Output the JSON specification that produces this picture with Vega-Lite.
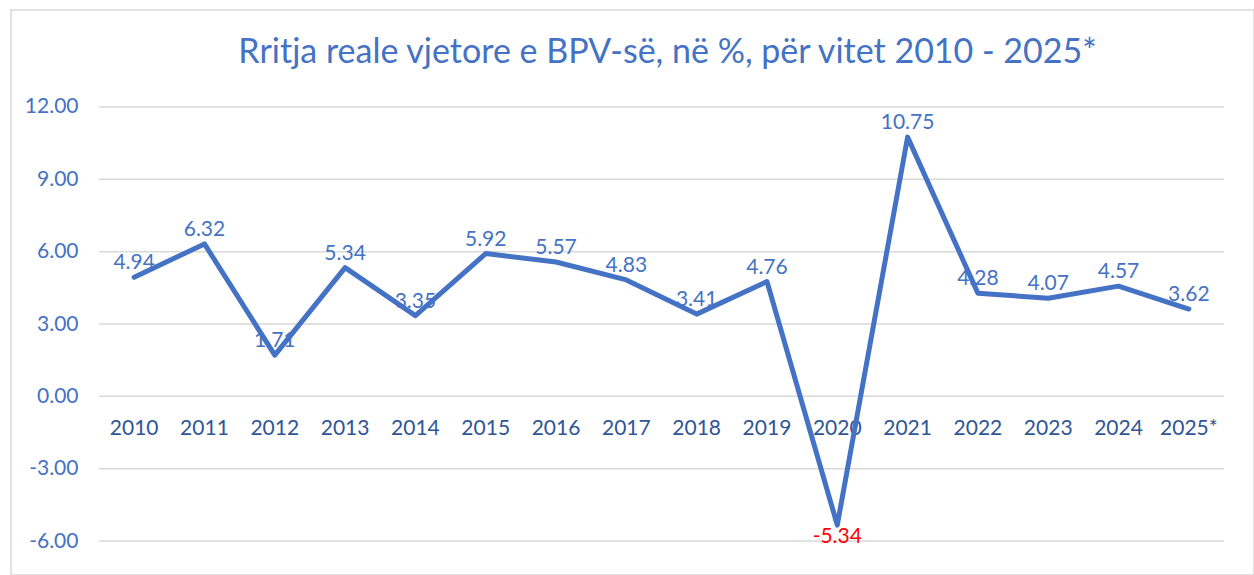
{
  "$schema": "https://vega.github.io/schema/vega-lite/v6.json",
  "width": 1243,
  "height": 565,
  "autosize": {"type": "none"},
  "padding": {"left": 11, "top": 10, "right": 0, "bottom": 0},
  "background": "white",
  "config": {
    "view": {"stroke": "#d9d9d9", "strokeWidth": 1.5},
    "font": "Lato",
    "locale": {"number": {"decimal": ".", "thousands": ",", "grouping": [3], "currency": ["$", ""], "minus": "-"}}
  },
  "title": {
    "text": "Rritja reale vjetore e BPV-së, në %, për vitet 2010 - 2025*",
    "font": "Lato",
    "fontSize": 34,
    "fontWeight": "normal",
    "color": "#4472C4",
    "anchor": "middle",
    "dx": 35,
    "dy": 64
  },
  "data": {
    "values": [
      {"year": "2010", "value": 4.94},
      {"year": "2011", "value": 6.32},
      {"year": "2012", "value": 1.71},
      {"year": "2013", "value": 5.34},
      {"year": "2014", "value": 3.35},
      {"year": "2015", "value": 5.92},
      {"year": "2016", "value": 5.57},
      {"year": "2017", "value": 4.83},
      {"year": "2018", "value": 3.41},
      {"year": "2019", "value": 4.76},
      {"year": "2020", "value": -5.34},
      {"year": "2021", "value": 10.75},
      {"year": "2022", "value": 4.28},
      {"year": "2023", "value": 4.07},
      {"year": "2024", "value": 4.57},
      {"year": "2025*", "value": 3.62}
    ]
  },
  "layer": [
    {
      "data": {"values": [{"v": -6}, {"v": -3}, {"v": 0}, {"v": 3}, {"v": 6}, {"v": 9}, {"v": 12}]},
      "mark": {"type": "rule", "color": "#d9d9d9", "strokeWidth": 1.5},
      "encoding": {
        "x": {"datum": "2010", "type": "ordinal", "bandPosition": 0},
        "x2": {"datum": "2025*", "bandPosition": 1},
        "y": {"field": "v", "type": "quantitative"}
      }
    },
    {
      "mark": {"type": "line", "color": "#4472C4", "strokeWidth": 5, "strokeCap": "round", "strokeJoin": "round"},
      "encoding": {
        "x": {
          "field": "year",
          "type": "ordinal",
          "sort": null,
          "bandPosition": 0.5,
          "scale": {
            "type": "band",
            "domain": ["2010", "2011", "2012", "2013", "2014", "2015", "2016", "2017", "2018", "2019", "2020", "2021", "2022", "2023", "2024", "2025*"],
            "range": [88, 1213],
            "paddingInner": 0,
            "paddingOuter": 0
          },
          "axis": {
            "orient": "bottom",
            "offset": -178,
            "bandPosition": 0.5,
            "domain": false,
            "ticks": false,
            "labelPadding": 31,
            "labelAngle": 0,
            "labelAlign": "center",
            "labelFont": "Lato",
            "labelFontSize": 21,
            "labelColor": "#2F5597",
            "title": null
          }
        },
        "y": {
          "field": "value",
          "type": "quantitative",
          "scale": {"domain": [-7.41, 16.023], "nice": false, "zero": false},
          "axis": {
            "values": [-6, -3, 0, 3, 6, 9, 12],
            "format": ".2f",
            "grid": false,
            "domain": false,
            "ticks": false,
            "offset": -89,
            "labelPadding": 22,
            "labelFont": "Lato",
            "labelFontSize": 21,
            "labelColor": "#4472C4",
            "title": null
          }
        }
      }
    },
    {
      "transform": [{"filter": "datum.value >= 0"}],
      "mark": {"type": "text", "dy": -14, "fontSize": 21, "font": "Lato", "color": "#4472C4", "baseline": "middle"},
      "encoding": {
        "x": {"field": "year", "type": "ordinal", "sort": null, "bandPosition": 0.5},
        "y": {"field": "value", "type": "quantitative"},
        "text": {"field": "value", "type": "quantitative", "format": ".2f"}
      }
    },
    {
      "transform": [{"filter": "datum.value < 0"}],
      "mark": {"type": "text", "dy": 12, "fontSize": 21, "font": "Lato", "color": "#FF0000", "baseline": "middle"},
      "encoding": {
        "x": {"field": "year", "type": "ordinal", "sort": null, "bandPosition": 0.5},
        "y": {"field": "value", "type": "quantitative"},
        "text": {"field": "value", "type": "quantitative", "format": ".2f"}
      }
    }
  ]
}
